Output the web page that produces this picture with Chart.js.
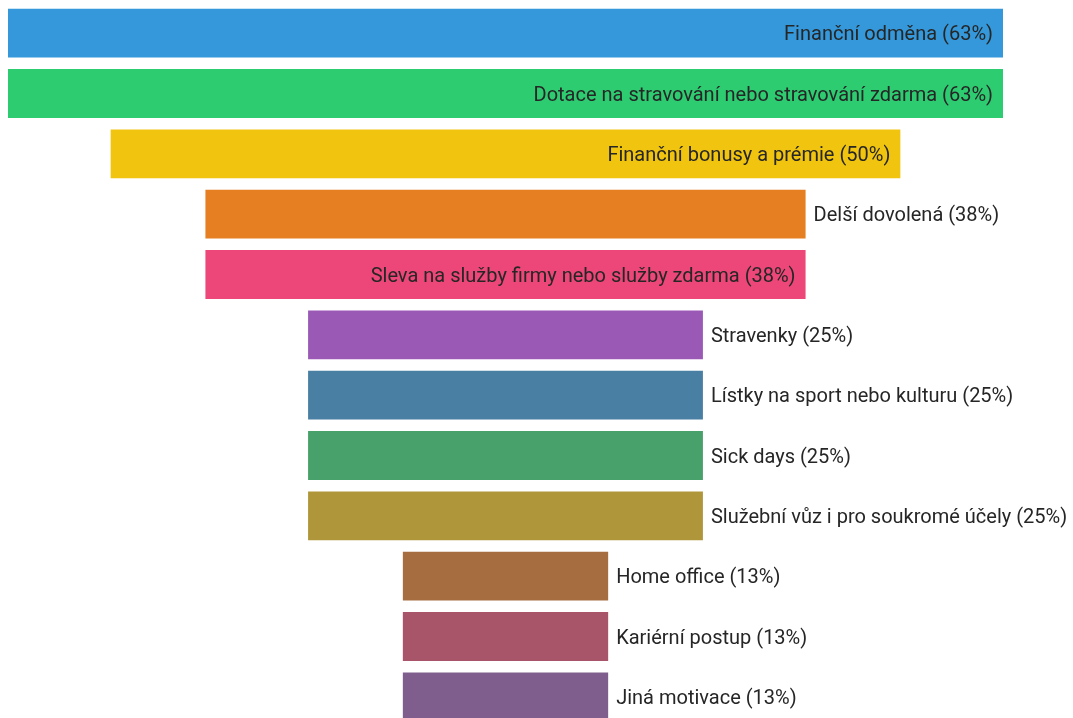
<!DOCTYPE html>
<html lang="cs">
<head>
<meta charset="UTF-8">
<title>Motivace</title>
<style>
  html, body { margin: 0; padding: 0; background: #fff; overflow: hidden; }
  #wrap { width: 1073px; height: 730px; }
</style>
</head>
<body>
<div id="wrap"><canvas id="funnel"></canvas></div>
<script src="https://cdn.jsdelivr.net/npm/chart.js"></script>
<script>
// kategorie a podíly (v %)
const categories = [
  'Finanční odměna',
  'Dotace na stravování nebo stravování zdarma',
  'Finanční bonusy a prémie',
  'Delší dovolená',
  'Sleva na služby firmy nebo služby zdarma',
  'Stravenky',
  'Lístky na sport nebo kulturu',
  'Sick days',
  'Služební vůz i pro soukromé účely',
  'Home office',
  'Kariérní postup',
  'Jiná motivace'
];
const shares = [63, 63, 50, 38, 38, 25, 25, 25, 25, 13, 13, 13];
const labelInside = [true, true, true, false, true, false, false, false, false, false, false, false];
const barColors = [
  '#3498db', '#2ecc71', '#f1c40f', '#e67e22', '#ec4778', '#9b59b6',
  '#4a7fa4', '#48a06a', '#b0963a', '#a66e40', '#a85469', '#7f5e8e'
];

// popisky: uvnitř pruhu zarovnané vpravo, jinak za pruhem
const funnelLabels = {
  id: 'funnelLabels',
  afterDatasetsDraw(chart) {
    const ctx = chart.ctx;
    const meta = chart.getDatasetMeta(0);
    ctx.save();
    ctx.font = '20px Roboto, "Noto Sans", sans-serif';
    ctx.fillStyle = '#262626';
    ctx.textBaseline = 'middle';
    meta.data.forEach((bar, i) => {
      const text = categories[i] + ' (' + shares[i] + '%)';
      const right = Math.max(bar.x, bar.base);
      if (labelInside[i]) {
        ctx.textAlign = 'right';
        ctx.fillText(text, right - 10, bar.y + 2);
      } else {
        ctx.textAlign = 'left';
        ctx.fillText(text, right + 8, bar.y + 2);
      }
    });
    ctx.restore();
  }
};

new Chart(document.getElementById('funnel'), {
  type: 'bar',
  data: {
    labels: categories,
    datasets: [{
      data: shares.map(v => [-v / 2, v / 2]),
      backgroundColor: barColors,
      borderWidth: 0,
      barPercentage: 0.9,
      categoryPercentage: 0.9
    }]
  },
  options: {
    indexAxis: 'y',
    responsive: true,
    maintainAspectRatio: false,
    animation: false,
    layout: { padding: { left: 8, right: 70, top: 3, bottom: 3 } },
    scales: {
      x: { display: false, min: -31.5, max: 31.5 },
      y: { display: false }
    },
    plugins: {
      legend: { display: false },
      tooltip: { enabled: false }
    }
  },
  plugins: [funnelLabels]
});
</script>
</body>
</html>
